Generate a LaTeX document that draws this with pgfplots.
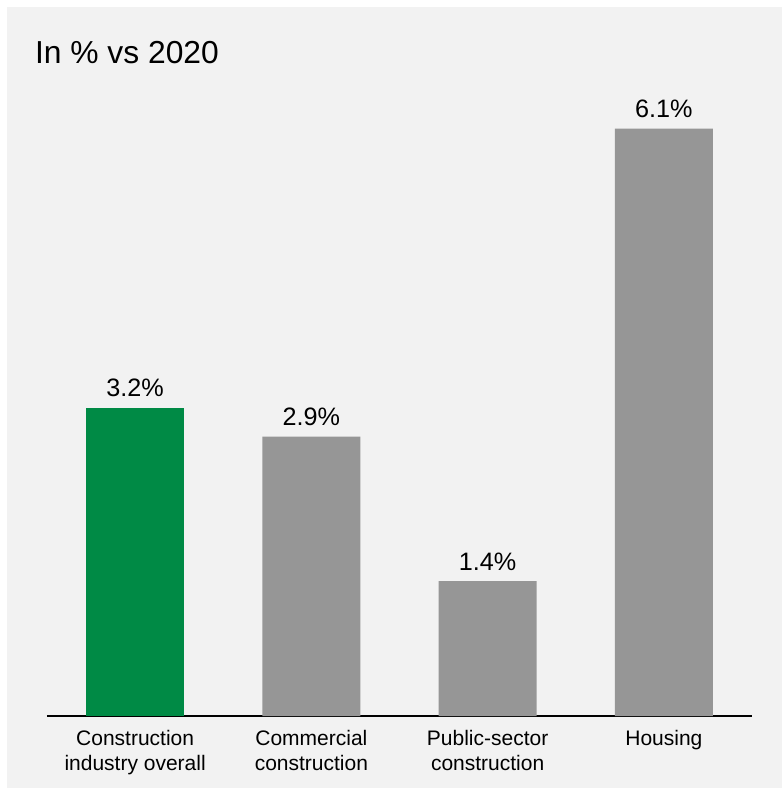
\documentclass[border=0pt]{standalone}
\usepackage{pgfplots}
\pgfplotsset{compat=1.18}
\usepackage{fontspec}
\setmainfont{Liberation Sans}
\definecolor{bg}{HTML}{F2F2F2}
\definecolor{bargreen}{HTML}{008A45}
\definecolor{bargray}{HTML}{969696}
\begin{document}
\begin{tikzpicture}
\fill[white] (0,0) rectangle (391pt,394pt);
\fill[bg] (3.5pt,0) rectangle (391pt,390.5pt);
\node[anchor=base west, inner sep=0, font=\fontsize{15.9}{19}\selectfont] at (17.3pt,362pt) {In \% vs 2020};
\begin{axis}[
  at={(23.5pt,36pt)}, anchor=south west,
  scale only axis,
  width=352.5pt, height=337.05pt,
  xmin=-0.5, xmax=3.5, ymin=0, ymax=7,
  axis x line=bottom, axis y line=none,
  x axis line style={black, line width=1pt, -},
  ytick=\empty,
  xtick={0,1,2,3},
  major tick length=0pt,
  xticklabels={Construction\\industry overall, Commercial\\construction, Public-sector\\construction, Housing},
  xticklabel style={font=\fontsize{10.5}{12.5}\selectfont, align=center, anchor=north, inner sep=0pt, yshift=-7pt},
  ybar, bar width=49pt,
  nodes near coords={\pgfmathprintnumber[fixed,precision=1,fixed zerofill]{\pgfplotspointmeta}\%},
  /pgf/number format/assume math mode=true,
  every node near coord/.append style={font=\fontsize{12.6}{15}\selectfont, anchor=base, inner sep=0pt, yshift=5.5pt, black},
  clip=false,
]
\addplot[bar shift=0pt, fill=bargreen, draw=none] coordinates {(0,3.2)};
\addplot[bar shift=0pt, fill=bargray, draw=none] coordinates {(1,2.9) (2,1.4) (3,6.1)};
\end{axis}
\pgfresetboundingbox
\useasboundingbox (0,0) rectangle (391pt,394pt);
\end{tikzpicture}
\end{document}
